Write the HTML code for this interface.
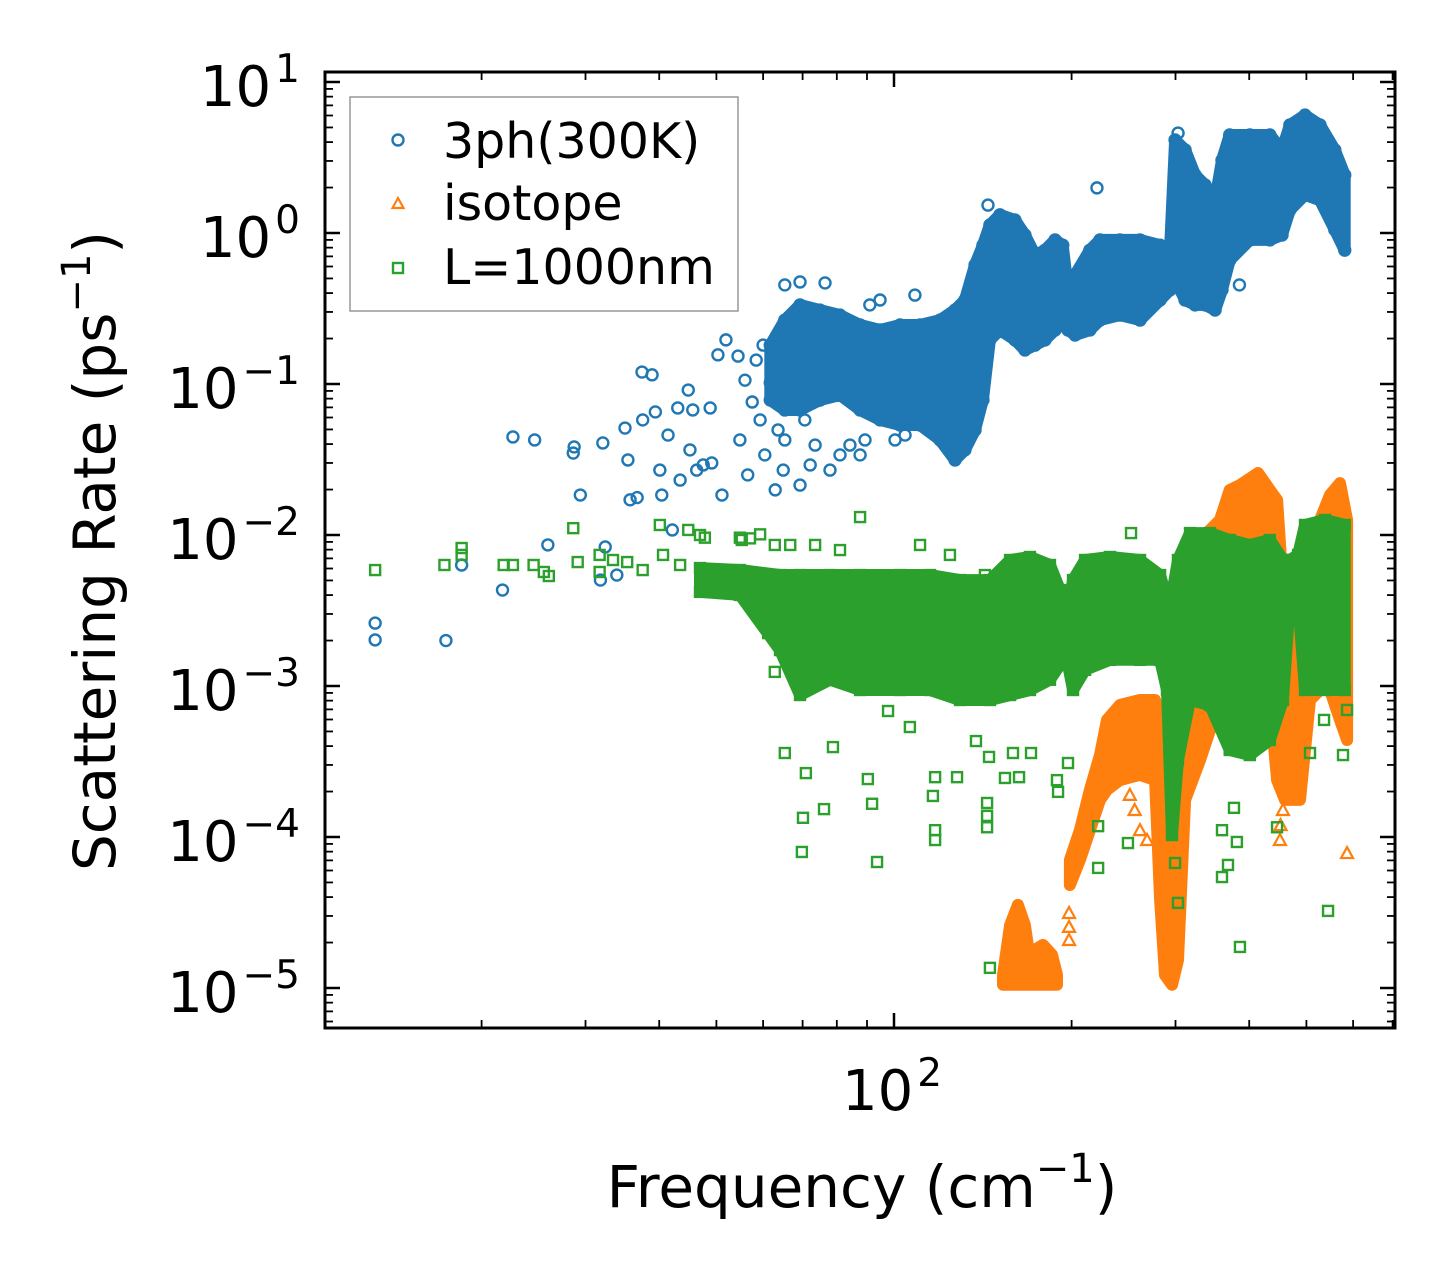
<!DOCTYPE html>
<html><head><meta charset="utf-8"><title>Scattering Rate</title>
<style>
html,body{margin:0;padding:0;background:#fff;}
svg{display:block;font-family:"DejaVu Sans","Liberation Sans",sans-serif;}
</style></head>
<body>
<svg id="chart" width="1455" height="1279" viewBox="0 0 1455 1279" xmlns="http://www.w3.org/2000/svg">
<defs><clipPath id="plotclip"><rect x="325" y="72" width="1070" height="956"/></clipPath></defs>
<rect x="0" y="0" width="1455" height="1279" fill="#fff"/>
<g id="series" clip-path="url(#plotclip)"></g>
<g id="axes"></g>
<rect x="325" y="72" width="1070" height="956" fill="none" stroke="#000" stroke-width="3"/>
<g id="legend">
  <rect x="350" y="97" width="388" height="214" fill="#fff" stroke="#999" stroke-width="1.5"/>
  <g>
    <circle cx="398" cy="140" r="5.5" fill="none" stroke="#1f77b4" stroke-width="2.4"/>
    <text x="443" y="158" font-size="49">3ph(300K)</text>
  </g>
  <g>
    <polygon points="398,198 403.5,208 392.5,208" fill="none" stroke="#ff7f0e" stroke-width="2.2"/>
    <text x="443" y="220" font-size="49">isotope</text>
  </g>
  <g>
    <rect x="393" y="263" width="10" height="10" fill="none" stroke="#2ca02c" stroke-width="2.4"/>
    <text x="443" y="284" font-size="49">L=1000nm</text>
  </g>
</g>
<text x="862" y="1207" font-size="58" text-anchor="middle">Frequency (cm<tspan font-size="40" dy="-25">−1</tspan><tspan dy="25">)</tspan></text>
<text transform="translate(115,551) rotate(-90)" font-size="58" text-anchor="middle">Scattering Rate (ps<tspan font-size="40" dy="-25">−1</tspan><tspan dy="25">)</tspan></text>
</svg>
<script>
// ---- data (frequency in cm^-1, rate in ps^-1) ----
const bluePtsFreq = [13.2,13.2,17.4,18.5,21.7,22.6,24.6,25.9,28.6,28.7,29.4,31.8,32.1,32.4,33.9,35.0,35.4,35.7,36.7,37.4,38.9,37.5,39.4,40.1,40.4,41.4,42.1,43.0,43.4,44.8,45.1,45.6,46.3,47.5,48.8,49.1,50.3,51.1,51.9,54.4,54.8,55.9,56.5,57.5,58.4,59.3,60.0,60.4,61.7,62.9,63.6,64.9,65.3,66.7,69.3,70.6,72.1,73.5,74.9,77.9,81.0,84.2,87.6,89.3,94.7,98.4,100.4,104.4,108.5,110.7,116.0,119.7,124.4,65.3,69.3,76.4,91.0,94.7,144.3,220.8,303,385];
const bluePtsRate = [0.00261,0.00202,0.0020,0.00633,0.00432,0.0446,0.0426,0.0086,0.0349,0.0383,0.0184,0.00503,0.0407,0.00833,0.00543,0.0511,0.0314,0.0171,0.0177,0.12,0.115,0.0578,0.0653,0.0269,0.0184,0.0459,0.0108,0.0694,0.0231,0.0912,0.0366,0.0673,0.0269,0.0291,0.0694,0.030,0.156,0.0184,0.196,0.153,0.0426,0.106,0.025,0.076,0.144,0.0578,0.181,0.0339,0.102,0.0199,0.0496,0.0269,0.0426,0.0783,0.0214,0.0578,0.0291,0.0394,0.0783,0.0269,0.0339,0.0394,0.0339,0.0426,0.0673,0.0783,0.0426,0.0459,0.388,0.0783,0.0673,0.0912,0.0578,0.453,0.474,0.467,0.334,0.36,1.53,1.99,4.59,0.453];
const blueBandFreq = [61.7,65.3,69.3,74.9,81.0,87.6,94.7,102.4,110.7,119.7,126.9,131.9,137.2,141.5,145.4,151.2,160.3,166.7,173.4,180.3,187.5,193.2,197.2,202.7,214.8,223.4,241.5,261.2,282.5,293.6,299.5,311.4,323.8,336.7,350.1,359.7,370.7,401,433.6,454.6,468.8,497.3,527.3,558.6,580.7];
const blueBandTop = [0.181,0.265,0.334,0.309,0.286,0.246,0.228,0.246,0.246,0.265,0.309,0.36,0.614,0.83,1.13,1.32,1.22,0.97,0.715,0.77,0.90,0.83,0.42,0.527,0.77,0.90,0.90,0.90,0.83,0.77,4.13,3.55,2.42,2.08,1.65,3.04,4.46,4.46,4.46,3.55,5.19,6.04,5.19,3.55,2.42];
const blueBandBottom = [0.0783,0.0673,0.0673,0.0783,0.0845,0.0673,0.0578,0.0535,0.0535,0.0426,0.0314,0.0366,0.0496,0.0783,0.196,0.228,0.196,0.168,0.181,0.196,0.228,0.265,0.228,0.211,0.228,0.265,0.286,0.265,0.36,0.42,0.489,0.36,0.334,0.334,0.309,0.42,0.66,0.90,0.90,0.97,1.42,1.79,1.65,1.05,0.77];

const orangeBandAFreq = [153.0,157.3,162.2,166.7,170.0,173.4,178.9,185.3,188.9];
const orangeBandATop = [1.22e-5,2.61e-5,3.55e-5,2.61e-5,1.53e-5,1.79e-5,1.93e-5,1.66e-5,1.22e-5];
const orangeBandABottom = [1.05e-5,1.05e-5,1.05e-5,1.05e-5,1.05e-5,1.05e-5,1.05e-5,1.05e-5,1.05e-5];
const orangeBandBFreq = [198.7,206.6,214.8,223.4,229.6,241.5,261.2,277.0,282.5,288.0,295.9,302.9,311.4,330.2,356.9,370.7,385.8,414.1,433.6,445.9,459.9,487.6,507.1,527.3,548.3,570.1,586];
const orangeBandBTop = [7.05e-5,1.11e-4,2.05e-4,3.49e-4,5.96e-4,7.48e-4,8.08e-4,8.08e-4,5.96e-4,3.24e-4,2.78e-4,8.08e-4,6.83e-3,9.27e-3,1.257e-2,1.987e-2,2.143e-2,2.574e-2,1.987e-2,1.706e-2,2.74e-3,1.73e-3,6.83e-3,1.257e-2,1.84e-2,2.208e-2,1.257e-2];
const orangeBandBBottom = [4.81e-5,7.05e-5,1.11e-4,1.76e-4,2.05e-4,2.38e-4,2.58e-4,2.38e-4,3.83e-5,1.22e-5,1.05e-5,1.53e-5,1.76e-4,3.24e-4,8.08e-4,9.41e-4,9.41e-4,8.08e-4,8.08e-4,2.38e-4,1.76e-4,1.76e-4,8.08e-4,9.41e-4,9.41e-4,5.96e-4,4.39e-4];
const orangePtsFreq = [198,198,198,451,586,251,255.8,261.2,268.5,456.3,452,361.2];
const orangePtsRate = [3.14e-5,2.54e-5,2.08e-5,9.55e-5,7.83e-5,1.9e-4,1.51e-4,1.11e-4,9.55e-5,1.51e-4,1.2e-4,0.01465];

const greenBandFreq = [46.9,54.8,64.1,69.3,77.9,87.6,102.4,115.1,129.4,145.4,157.3,170.0,183.8,191.1,196.5,201.1,210.8,232.3,261.2,282.5,290.2,295.9,302.9,317.5,343.3,370.7,401,433.6,456.3,468.8,484,497.3,537.8,580.7];
const greenBandTop = [0.00604,0.00586,0.00543,0.00543,0.00543,0.00543,0.00543,0.00543,0.00503,0.00503,0.00683,0.00715,0.00633,0.00432,0.00295,0.00503,0.00683,0.00715,0.00683,0.00543,0.00371,0.00401,0.00683,0.0103,0.0103,0.00927,0.00859,0.00927,0.00683,0.00683,0.00738,0.01165,0.01257,0.01165];
const greenBandBottom = [0.0042,0.00401,0.00173,0.000872,0.0011,0.000941,0.000941,0.000941,0.000808,0.000808,0.000872,0.000941,0.0011,0.00138,0.00149,0.000941,0.00128,0.00149,0.00149,0.00149,0.000941,0.000103,0.000324,0.000808,0.000748,0.000377,0.000349,0.000439,0.000808,0.00371,0.00371,0.000941,0.000941,0.000941];
const greenPtsFreq = [13.2,17.3,18.5,18.5,21.8,22.6,24.5,25.5,26.0,28.6,29.1,31.7,31.7,33.4,35.3,37.5,40.1,40.6,43.4,44.8,46.9,47.8,54.8,55.2,57.0,59.3,62.8,66.7,73.5,81.0,110.7,124.4,142.6,151.2,87.6,61.2,62.8,65.3,70.9,90.3,91.8,76.1,70.1,69.8,93.6,117.4,117.4,116.4,117.4,127.9,143.8,143.8,154.2,162.9,144.9,159.1,170.7,189.7,197.2,221.8,137.7,78.8,97.7,106.4,143.8,188.9,221.8,249.2,145.4,302.9,299.5,359.7,376.9,381.2,368.2,359.7,445.9,507.1,544.1,385.8,586,576.8,252.2,535.7];
const greenPtsRate = [0.00586,0.00633,0.0082,0.00738,0.00633,0.00633,0.00633,0.00569,0.00535,0.0111,0.00662,0.00569,0.00738,0.00683,0.00662,0.00586,0.01165,0.00738,0.00633,0.0108,0.01,0.0096,0.0096,0.00927,0.0095,0.0101,0.00859,0.00859,0.00859,0.00795,0.00859,0.00738,0.00543,0.00519,0.01315,0.00224,0.00124,0.00036,0.000265,0.000242,0.000166,0.000153,0.000134,0.0000796,0.0000683,0.000111,0.0000955,0.000187,0.000249,0.000249,0.000168,0.000116,0.000246,0.000249,0.000339,0.00036,0.00036,0.000199,0.000309,0.000118,0.000432,0.000394,0.000683,0.000535,0.000138,0.000238,0.0000624,0.0000912,0.0000136,0.0000366,0.0000673,0.000111,0.000156,0.0000927,0.0000653,0.0000543,0.000116,0.00036,0.0000324,0.0000187,0.000694,0.000349,0.0103,0.000596];

const yTickExps = [1,0,-1,-2,-3,-4,-5];
const xTickExps = [2];
const xMinorTicks = [20,30,40,50,60,70,80,90,200,300,400,500,600,700];

// ---- axis functions ----
const X = f => 894 + 590 * (Math.log10(f) - 2);
const Y = r => 233 - 151 * Math.log10(r);
const NS = 'http://www.w3.org/2000/svg';
const seriesG = document.getElementById('series');
const axesG = document.getElementById('axes');
function mk(tag, attrs, parent){const e=document.createElementNS(NS,tag);for(const k in attrs)e.setAttribute(k,attrs[k]);parent.appendChild(e);return e;}

function drawBand(freqs, tops, bottoms, color, name){
  const pts=[];
  for(let i=0;i<freqs.length;i++)pts.push(X(freqs[i]).toFixed(1)+','+Y(tops[i]).toFixed(1));
  for(let i=freqs.length-1;i>=0;i--)pts.push(X(freqs[i]).toFixed(1)+','+Y(bottoms[i]).toFixed(1));
  const p=mk('polygon',{points:pts.join(' '),fill:color,stroke:color,'stroke-width':12,'stroke-linejoin':'round'},seriesG);
  
  
}
function marker(kind, x, y, color, name){
  let e;
  if(kind==='circle') e=mk('circle',{cx:x,cy:y,r:5.5,fill:'none',stroke:color,'stroke-width':2.4},seriesG);
  else if(kind==='square') e=mk('rect',{x:x-5,y:y-5,width:10,height:10,fill:'none',stroke:color,'stroke-width':2.4},seriesG);
  else e=mk('polygon',{points:`${x},${y-6} ${x+6},${y+5} ${x-6},${y+5}`,fill:'none',stroke:color,'stroke-width':2.2},seriesG);
  
  
}
function drawPts(fs, rs, kind, color, name){
  for(let i=0;i<fs.length;i++) marker(kind, X(fs[i]), Y(rs[i]), color, name);
}
function drawBandEdges(fs, tops, bottoms, kind, color, name){
  for(let i=0;i<fs.length;i++){marker(kind,X(fs[i]),Y(tops[i]),color,name);marker(kind,X(fs[i]),Y(bottoms[i]),color,name);}
}

const C1='#1f77b4', C2='#ff7f0e', C3='#2ca02c';
drawBand(blueBandFreq, blueBandTop, blueBandBottom, C1, '3ph-band');
drawBandEdges(blueBandFreq, blueBandTop, blueBandBottom, 'circle', C1, '3ph-point');
drawPts(bluePtsFreq, bluePtsRate, 'circle', C1, '3ph-point');
drawBand(orangeBandAFreq, orangeBandATop, orangeBandABottom, C2, 'isotope-band');
drawBand(orangeBandBFreq, orangeBandBTop, orangeBandBBottom, C2, 'isotope-band');
drawPts(orangePtsFreq, orangePtsRate, 'triangle', C2, 'isotope-point');
drawBand(greenBandFreq, greenBandTop, greenBandBottom, C3, 'boundary-band');
drawBandEdges(greenBandFreq, greenBandTop, greenBandBottom, 'square', C3, 'boundary-point');
drawPts(greenPtsFreq, greenPtsRate, 'square', C3, 'boundary-point');

// ---- ticks ----
for(const e of yTickExps){
  const y=Y(Math.pow(10,e));
  const t1=mk('line',{x1:325,x2:340,y1:y,y2:y,stroke:'#000','stroke-width':2.5},axesG);
  
  
  const t2=mk('line',{x1:1380,x2:1395,y1:y,y2:y,stroke:'#000','stroke-width':2.5},axesG);
  
  
  const lab=mk('text',{x:300,y:y+24,'font-size':56,'text-anchor':'end'},axesG);
  
  
  const a=document.createElementNS(NS,'tspan');a.textContent='10';lab.appendChild(a);
  const b=document.createElementNS(NS,'tspan');b.setAttribute('font-size','39');b.setAttribute('dy','-24');b.setAttribute('dx','4');b.textContent=(e<0?'−':'')+Math.abs(e);lab.appendChild(b);
  for(let m=2;m<=9;m++){
    const ym=Y(m*Math.pow(10,e-1));
    if(ym<72||ym>1028)continue;
    const l1=mk('line',{x1:325,x2:333,y1:ym,y2:ym,stroke:'#000','stroke-width':1.8},axesG);
    
    
    const l2=mk('line',{x1:1387,x2:1395,y1:ym,y2:ym,stroke:'#000','stroke-width':1.8},axesG);
    
    
  }
}
for(const e of xTickExps){
  const x=X(Math.pow(10,e));
  const t1=mk('line',{x1:x,x2:x,y1:1028,y2:1013,stroke:'#000','stroke-width':2.5},axesG);
  
  
  const t2=mk('line',{x1:x,x2:x,y1:72,y2:87,stroke:'#000','stroke-width':2.5},axesG);
  
  
  const lab=mk('text',{x:x-2,y:1110,'font-size':56,'text-anchor':'middle'},axesG);
  
  
  const a=document.createElementNS(NS,'tspan');a.textContent='10';lab.appendChild(a);
  const b=document.createElementNS(NS,'tspan');b.setAttribute('font-size','39');b.setAttribute('dy','-24');b.setAttribute('dx','4');b.textContent=String(e);lab.appendChild(b);
}
for(const f of xMinorTicks){
  const x=X(f);
  if(x<325||x>1395)continue;
  const l1=mk('line',{x1:x,x2:x,y1:1028,y2:1020,stroke:'#000','stroke-width':1.8},axesG);
  
  
  const l2=mk('line',{x1:x,x2:x,y1:72,y2:80,stroke:'#000','stroke-width':1.8},axesG);
  
  
}
</script>
</body></html>
